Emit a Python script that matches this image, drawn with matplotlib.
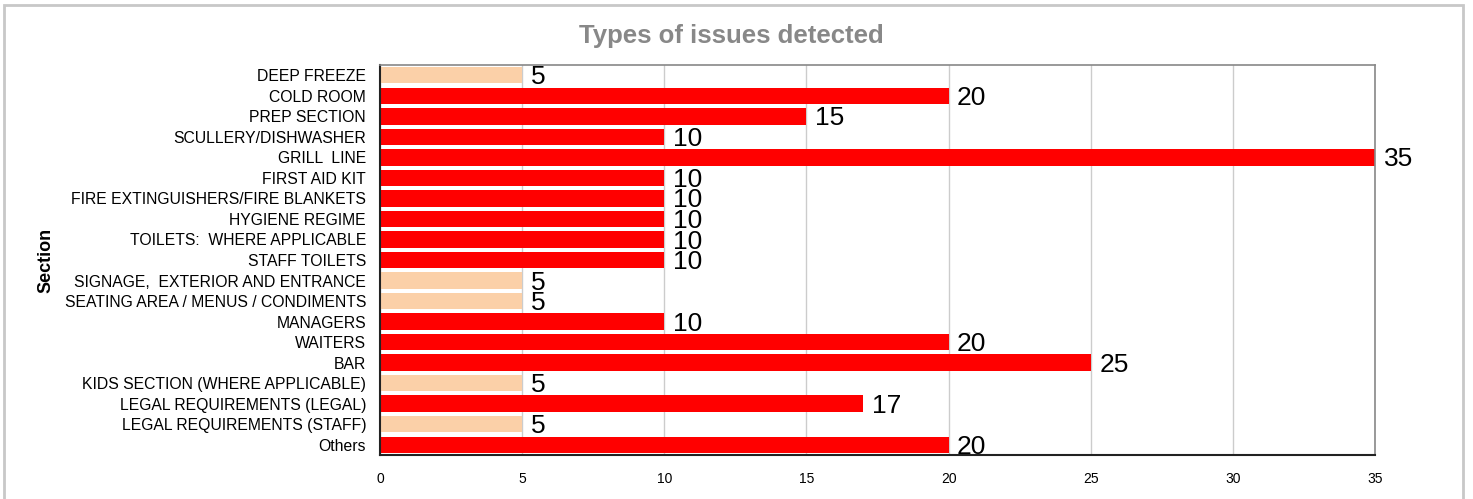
import matplotlib.pyplot as plt
from matplotlib.patches import Rectangle

plt.rcParams['font.family'] = ['Liberation Sans', 'DejaVu Sans']

sections = ['DEEP FREEZE', 'COLD ROOM', 'PREP SECTION', 'SCULLERY/DISHWASHER',
            'GRILL  LINE', 'FIRST AID KIT', 'FIRE EXTINGUISHERS/FIRE BLANKETS',
            'HYGIENE REGIME', 'TOILETS:  WHERE APPLICABLE', 'STAFF TOILETS',
            'SIGNAGE,  EXTERIOR AND ENTRANCE', 'SEATING AREA / MENUS / CONDIMENTS',
            'MANAGERS', 'WAITERS', 'BAR', 'KIDS SECTION (WHERE APPLICABLE)',
            'LEGAL REQUIREMENTS (LEGAL)', 'LEGAL REQUIREMENTS (STAFF)', 'Others']
counts = [5, 20, 15, 10, 35, 10, 10, 10, 10, 10, 5, 5, 10, 20, 25, 5, 17, 5, 20]

red = '#FF0000'
peach = '#FBD0A8'
colors = [peach if v == 5 else red for v in counts]

fig = plt.figure(figsize=(14.73, 4.99), dpi=100)
ax = fig.add_axes([380 / 1473, 44 / 499, 995 / 1473, 390 / 499])

y = list(range(len(sections)))
ax.barh(y, counts, height=0.8, color=colors, zorder=2)
ax.set_ylim(len(sections) - 0.5, -0.5)
ax.set_xlim(0, 35)
ax.set_yticks(y)
ax.set_yticklabels(sections, fontsize=11.3)
ax.set_xticks([0, 5, 10, 15, 20, 25, 30, 35])
ax.tick_params(axis='x', labelsize=10, length=0, pad=12)
ax.tick_params(axis='y', length=0, pad=10)
ax.grid(axis='x', color='#CCCCCC', linewidth=1, zorder=0)
ax.set_axisbelow(True)

for s in ['left', 'bottom']:
    ax.spines[s].set_color('#222222')
    ax.spines[s].set_linewidth(1.5)
for s in ['top', 'right']:
    ax.spines[s].set_color('#888888')
    ax.spines[s].set_linewidth(1.2)

for yi, v in zip(y, counts):
    ax.text(v + 0.3, yi + 0.1, str(v), va='center', ha='left', fontsize=19,
            color='black', zorder=3)

ax.set_ylabel('Section', fontsize=13, fontweight='bold')
ax.yaxis.set_label_coords(-0.327, 0.5)
fig.text(0.4963, 0.927, 'Types of issues detected', ha='center', va='center',
         fontsize=18.5, fontweight='bold', color='#888888')

fig.patches.append(Rectangle((4 / 1473, -0.1), 1459 / 1473, 1.09,
                             transform=fig.transFigure, fill=False,
                             edgecolor='#C8C8C8', linewidth=2))

fig.savefig('out.png', dpi=100)
